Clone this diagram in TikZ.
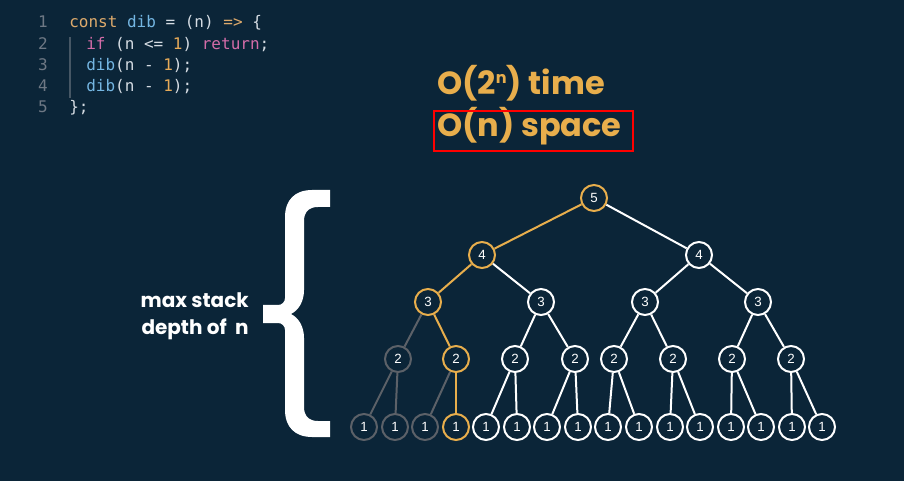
\documentclass[tikz,border=0pt]{standalone}
\usepackage{fontspec}
\newfontfamily\popfont{Poppins}
\newfontfamily\codefont{DejaVu Sans Mono}
\newfontfamily\numfont{Liberation Sans}
\definecolor{bg}{HTML}{0B2538}
\definecolor{gold}{HTML}{E8AE4C}
\definecolor{dimg}{HTML}{5C6168}
\definecolor{lnum}{HTML}{6E7884}
\definecolor{ckw}{HTML}{DDAA6C}
\definecolor{cfn}{HTML}{74B6E2}
\definecolor{cpk}{HTML}{D36CA8}
\definecolor{cnum}{HTML}{E6AA58}
\definecolor{ctx}{HTML}{D5DCE3}
\tikzset{
  tnode/.style={circle,draw=white,fill=bg,line width=1.5pt,minimum size=19.5pt,inner sep=0pt,text=white,font=\numfont\fontsize{10}{11}\selectfont},
  gnode/.style={tnode,draw=gold},
  dnode/.style={tnode,draw=dimg},
  wedge/.style={draw=white,line width=1.5pt},
  gedge/.style={draw=gold,line width=1.5pt},
  dedge/.style={draw=dimg,line width=1.5pt},
  codeline/.style={anchor=mid west,inner sep=0pt,text=ctx,font=\codefont\fontsize{12}{14}\selectfont},
  lineno/.style={anchor=mid,inner sep=0pt,text=lnum,font=\codefont\fontsize{12}{14}\selectfont},
  title/.style={anchor=base west,inner sep=0pt,text=gold,font=\popfont\bfseries\fontsize{24}{30}\selectfont},
  side/.style={align=right,inner sep=0pt,text=white,font=\popfont\bfseries\fontsize{15}{20}\selectfont}
}
\begin{document}
\begin{tikzpicture}[x=0.75pt,y=-0.75pt]
\fill[bg] (0,0) rectangle (904,481);
\useasboundingbox (0,0) rectangle (904,481);

% code
\node[lineno] (n1) at (43,25) {1};
\node[lineno] (n2) at (43,46.5) {2};
\node[lineno] (n3) at (43,68) {3};
\node[lineno] (n4) at (43,89) {4};
\node[lineno] (n5) at (43,110) {5};
\node[codeline] (c1) at (69,25) {\textcolor{ckw}{const} \textcolor{cfn}{dib} = (n) \textcolor{ckw}{=>} \{};
\node[codeline] (c2) at (86,46.5) {\textcolor{cpk}{if} (n <= \textcolor{cnum}{1}) \textcolor{cpk}{return};};
\node[codeline] (c3) at (86,68) {\textcolor{cfn}{dib}(n - \textcolor{cnum}{1});};
\node[codeline] (c4) at (86,89) {\textcolor{cfn}{dib}(n - \textcolor{cnum}{1});};
\node[codeline] (c5) at (69,110) {\};};
\coordinate (g1) at (70,37);
\coordinate (g2) at (70,98);
\draw[lnum!60!bg,line width=0.8pt] (g1) -- (g2);

% titles
\node[title] (t1) at (437,95) {O(2\raisebox{8.5pt}{\fontsize{12}{12}\selectfont n}) time};
\node[title] (t2) at (437,137) {O(n) space};
\coordinate (r1) at (434,111);
\coordinate (r2) at (633,151);
\draw[red,line width=1.6pt] (r1) rectangle (r2);

% side text
\node[side,anchor=east] (st) at (249,316) {max stack\\depth of~~n};

% brace
\fill[white] (330,190) -- (312,190) .. controls (295,190) and (285,200) .. (285,217)
  -- (285,298) .. controls (285,302) and (282,305) .. (278,305) -- (263,305) -- (263,323)
  -- (278,323) .. controls (282,323) and (285,326) .. (285,330)
  -- (285,410) .. controls (285,427) and (295,437) .. (312,437) -- (330,437) -- (330,421)
  -- (318,421) .. controls (309,421) and (304,416) .. (304,407)
  -- (304,338) .. controls (304,327) and (299,318) .. (291,314)
  .. controls (299,310) and (304,301) .. (304,290)
  -- (304,221) .. controls (304,212) and (309,207) .. (318,207) -- (330,207) -- cycle;

% tree nodes
\node[gnode] (a5) at (594,198) {5};
\node[gnode] (b1) at (482,255) {4};
\node[tnode] (b2) at (699,255) {4};
\node[gnode] (c31) at (428,302) {3};
\node[tnode] (c32) at (541,302) {3};
\node[tnode] (c33) at (645,302) {3};
\node[tnode] (c34) at (758,302) {3};
\node[dnode] (d1) at (398,359) {2};
\node[gnode] (d2) at (456,359) {2};
\node[tnode] (d3) at (515,359) {2};
\node[tnode] (d4) at (575,359) {2};
\node[tnode] (d5) at (614,359) {2};
\node[tnode] (d6) at (673,359) {2};
\node[tnode] (d7) at (732,359) {2};
\node[tnode] (d8) at (791,359) {2};
\node[dnode] (e1) at (364,427) {1};
\node[dnode] (e2) at (395,427) {1};
\node[dnode] (e3) at (425,427) {1};
\node[gnode] (e4) at (456,427) {1};
\node[tnode] (e5) at (486,427) {1};
\node[tnode] (e6) at (517,427) {1};
\node[tnode] (e7) at (547,427) {1};
\node[tnode] (e8) at (578,427) {1};
\node[tnode] (e9) at (608,427) {1};
\node[tnode] (e10) at (639,427) {1};
\node[tnode] (e11) at (670,427) {1};
\node[tnode] (e12) at (700,427) {1};
\node[tnode] (e13) at (731,427) {1};
\node[tnode] (e14) at (761,427) {1};
\node[tnode] (e15) at (792,427) {1};
\node[tnode] (e16) at (822,427) {1};

% edges
\draw[gedge] (a5) -- (b1);
\draw[wedge] (a5) -- (b2);
\draw[gedge] (b1) -- (c31);
\draw[wedge] (b1) -- (c32);
\draw[wedge] (b2) -- (c33);
\draw[wedge] (b2) -- (c34);
\draw[dedge] (c31) -- (d1);
\draw[gedge] (c31) -- (d2);
\draw[wedge] (c32) -- (d3);
\draw[wedge] (c32) -- (d4);
\draw[wedge] (c33) -- (d5);
\draw[wedge] (c33) -- (d6);
\draw[wedge] (c34) -- (d7);
\draw[wedge] (c34) -- (d8);
\draw[dedge] (d1) -- (e1);
\draw[dedge] (d1) -- (e2);
\draw[dedge] (d2) -- (e3);
\draw[gedge] (d2) -- (e4);
\draw[wedge] (d3) -- (e5);
\draw[wedge] (d3) -- (e6);
\draw[wedge] (d4) -- (e7);
\draw[wedge] (d4) -- (e8);
\draw[wedge] (d5) -- (e9);
\draw[wedge] (d5) -- (e10);
\draw[wedge] (d6) -- (e11);
\draw[wedge] (d6) -- (e12);
\draw[wedge] (d7) -- (e13);
\draw[wedge] (d7) -- (e14);
\draw[wedge] (d8) -- (e15);
\draw[wedge] (d8) -- (e16);
\end{tikzpicture}
\end{document}
